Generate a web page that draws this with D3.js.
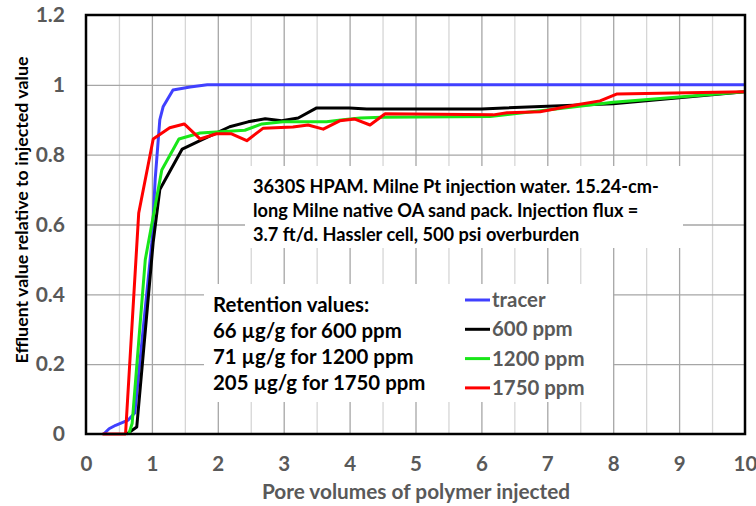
<!DOCTYPE html>
<html>
<head>
<meta charset="utf-8">
<script src="https://cdn.jsdelivr.net/npm/d3@7/dist/d3.min.js"></script>
<style>
  html, body { margin: 0; padding: 0; background: #fff; }
  svg text { font-family: Lato, "Open Sans", sans-serif; font-weight: 700; }
</style>
</head>
<body>
<svg id="chart" width="756" height="506"></svg>
<script>
// Effluent breakthrough curves, Milne Pt sand pack
const xTicks = [0, 1, 2, 3, 4, 5, 6, 7, 8, 9, 10];
const yTicks = [0, 0.2, 0.4, 0.6, 0.8, 1, 1.2];
const yTickLabels = ["0", "0.2", "0.4", "0.6", "0.8", "1", "1.2"];

const seriesNames = ["tracer", "600 ppm", "1200 ppm", "1750 ppm"];
const seriesColors = ["#4040ff", "#000000", "#19e619", "#ff0000"];

const tracerPV = [0.27, 0.35, 0.45, 0.64, 0.74, 1.0, 1.05, 1.12, 1.17, 1.32, 1.58, 1.84, 10];
const tracerVal = [0, 0.015, 0.025, 0.04, 0.06, 0.55, 0.73, 0.9, 0.937, 0.985, 0.994, 1.0, 1.0];

const ppm600PV = [0.62, 0.77, 1.02, 1.12, 1.46, 1.73, 2.18, 2.46, 2.72, 2.97, 3.22, 3.5, 4.0, 4.26, 6.0, 8.0, 10];
const ppm600Val = [0, 0.02, 0.55, 0.7, 0.816, 0.84, 0.88, 0.894, 0.903, 0.897, 0.905, 0.934, 0.934, 0.931, 0.931, 0.946, 0.98];

const ppm1200PV = [0.65, 0.7, 0.9, 1.15, 1.41, 1.73, 2.41, 2.67, 2.99, 3.65, 3.9, 4.16, 4.5, 6.13, 6.43, 7.0, 8.0, 10];
const ppm1200Val = [0, 0.03, 0.5, 0.756, 0.845, 0.862, 0.87, 0.888, 0.894, 0.894, 0.9, 0.905, 0.907, 0.909, 0.916, 0.928, 0.95, 0.98];

const ppm1750PV = [0.25, 0.6, 0.8, 1.02, 1.27, 1.49, 1.73, 1.98, 2.2, 2.44, 2.69, 3.14, 3.37, 3.6, 3.85, 4.08, 4.31, 4.54, 6.18, 6.39, 6.89, 7.45, 7.8, 8.06, 10];
const ppm1750Val = [0, 0, 0.633, 0.845, 0.877, 0.888, 0.845, 0.86, 0.86, 0.84, 0.876, 0.879, 0.885, 0.873, 0.897, 0.902, 0.885, 0.917, 0.914, 0.92, 0.923, 0.943, 0.954, 0.974, 0.98];

const seriesPV = [tracerPV, ppm600PV, ppm1200PV, ppm1750PV];
const seriesVal = [tracerVal, ppm600Val, ppm1200Val, ppm1750Val];

const noteLines = [
  "3630S HPAM. Milne Pt injection water. 15.24-cm-",
  "long Milne native OA sand pack. Injection flux =",
  "3.7 ft/d. Hassler cell, 500 psi overburden"
];
const retentionLines = [
  "Retention values:",
  "66 µg/g for 600 ppm",
  "71 µg/g for 1200 ppm",
  "205 µg/g for 1750 ppm"
];

const svg = d3.select("#chart");
const plot = { left: 86, right: 745, top: 15, bottom: 434 };

const x = d3.scaleLinear().domain([0, 10]).range([plot.left, plot.right]);
const y = d3.scaleLinear().domain([0, 1.2]).range([plot.bottom, plot.top]);

// vertical grid: half-unit lines lighter, whole units darker
const halfTicks = d3.range(0.5, 10, 1);
svg.append("g")
  .attr("transform", `translate(0,${plot.bottom})`)
  .call(d3.axisBottom(x).tickValues(halfTicks).tickSize(-(plot.bottom - plot.top)).tickFormat(""))
  .call(g => g.select(".domain").remove())
  .call(g => g.selectAll("line").attr("stroke", "#d6d6d6").attr("stroke-width", 1.3));
svg.append("g")
  .attr("transform", `translate(0,${plot.bottom})`)
  .call(d3.axisBottom(x).tickValues(xTicks.slice(1, -1)).tickSize(-(plot.bottom - plot.top)).tickFormat(""))
  .call(g => g.select(".domain").remove())
  .call(g => g.selectAll("line").attr("stroke", "#a6a6a6").attr("stroke-width", 1.3));
// horizontal grid
svg.append("g")
  .attr("transform", `translate(${plot.left},0)`)
  .call(d3.axisLeft(y).tickValues(yTicks.slice(1, -1)).tickSize(-(plot.right - plot.left)).tickFormat(""))
  .call(g => g.select(".domain").remove())
  .call(g => g.selectAll("line").attr("stroke", "#a6a6a6").attr("stroke-width", 1.3));

// annotation panels sit above the grid but under the curves
svg.append("rect").attr("x", 245).attr("y", 166).attr("width", 438).attr("height", 82).attr("fill", "#fff");
svg.append("rect").attr("x", 204).attr("y", 284).attr("width", 409).attr("height", 118).attr("fill", "#fff");

// curves
const line = d3.line().x(d => x(d[0])).y(d => y(d[1]));
seriesPV.forEach((pv, i) => {
  const pts = pv.map((v, j) => [v, seriesVal[i][j]]);
  svg.append("path")
    .datum(pts)
    .attr("d", line)
    .attr("fill", "none")
    .attr("stroke", seriesColors[i])
    .attr("stroke-width", 3)
    .attr("stroke-linejoin", "round");
});

// plot frame
svg.append("rect")
  .attr("x", plot.left).attr("y", plot.top)
  .attr("width", plot.right - plot.left).attr("height", plot.bottom - plot.top)
  .attr("fill", "none").attr("stroke", "#000").attr("stroke-width", 2.5);

// tick labels
svg.append("g")
  .attr("transform", `translate(0,${plot.bottom + 22})`)
  .call(d3.axisBottom(x).tickValues(xTicks).tickSize(0).tickPadding(0).tickFormat(d3.format("d")))
  .call(g => g.select(".domain").remove())
  .call(g => g.selectAll("text").attr("fill", "#595959").attr("font-size", 20.5).attr("dy", "0.71em")
    .style("font-family", "Lato, sans-serif").style("font-weight", 700));
svg.append("g")
  .attr("transform", `translate(${plot.left - 21},0)`)
  .call(d3.axisLeft(y).tickValues(yTicks).tickSize(0).tickPadding(0).tickFormat((d, i) => yTickLabels[i]))
  .call(g => g.select(".domain").remove())
  .call(g => g.selectAll("text").attr("fill", "#595959").attr("font-size", 21)
    .style("font-family", "Lato, sans-serif").style("font-weight", 700));

// axis titles
svg.append("text")
  .attr("x", 416).attr("y", 499)
  .attr("text-anchor", "middle").attr("fill", "#595959").attr("font-size", 20.8)
  .text("Pore volumes of polymer injected");
svg.append("text")
  .attr("transform", "translate(28,210) rotate(-90)")
  .attr("text-anchor", "middle").attr("fill", "#000").attr("font-size", 17.8)
  .text("Effluent value relative to injected value");

// note text
svg.append("g").selectAll("text").data(noteLines).join("text")
  .attr("x", 253).attr("y", (d, i) => 192.5 + i * 24)
  .attr("fill", "#000").attr("font-size", 18.2)
  .text(d => d);

svg.append("g").selectAll("text").data(retentionLines).join("text")
  .attr("x", 213).attr("y", (d, i) => 312 + i * 26)
  .attr("fill", "#000").attr("font-size", 20.4)
  .text(d => d);

// legend
const legend = svg.append("g").selectAll("g").data(seriesNames).join("g")
  .attr("transform", (d, i) => `translate(465,${300 + i * 29.3})`);
legend.append("line").attr("x1", 0).attr("x2", 25).attr("y1", 0).attr("y2", 0)
  .attr("stroke", (d, i) => seriesColors[i]).attr("stroke-width", 3);
legend.append("text").attr("x", 27).attr("y", 7)
  .attr("fill", "#595959").attr("font-size", 20.4)
  .text(d => d);
</script>
</body>
</html>
